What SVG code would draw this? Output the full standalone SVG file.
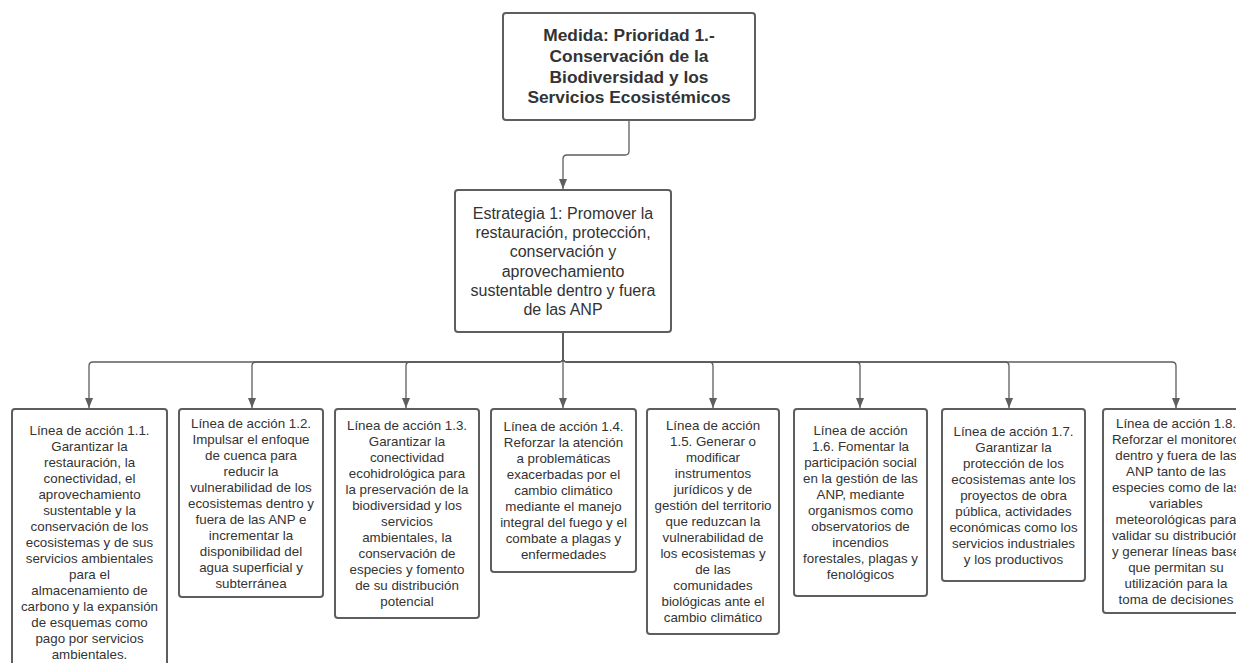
<svg xmlns="http://www.w3.org/2000/svg" width="1236" height="663" viewBox="0 0 1236 663">
<defs>
<style>
.box{fill:#ffffff;stroke:#5e5e5e;stroke-width:2}
.t{font-family:"Liberation Sans",Arial,sans-serif;font-size:13.33px;fill:#333333;text-anchor:middle}
.tm{font-family:"Liberation Sans",Arial,sans-serif;font-size:16px;fill:#333333;text-anchor:middle}
.tb{font-family:"Liberation Sans",Arial,sans-serif;font-size:17.33px;font-weight:bold;fill:#333333;text-anchor:middle}
.c{fill:none;stroke:#5e5e5e;stroke-width:1.3;marker-end:url(#arr)}
</style>
<marker id="arr" markerUnits="userSpaceOnUse" markerWidth="10" markerHeight="10" refX="10" refY="4" orient="auto">
<path d="M0,0 L10,4 L0,8 z" fill="#5e5e5e"/>
</marker>
</defs>
<rect width="1236" height="663" fill="#ffffff"/>
<g id="connectors">
<path class="c" d="M629,120 V151 Q629,155 625,155 H567 Q563,155 563,159 V189"/>
<path class="c" d="M563,333 V358 Q563,362 559,362 H93 Q89,362 89,366 V408"/>
<path class="c" d="M563,333 V358 Q563,362 559,362 H256 Q252,362 252,366 V408"/>
<path class="c" d="M563,333 V358 Q563,362 559,362 H410 Q406,362 406,366 V408"/>
<path class="c" d="M563,333 V408"/>
<path class="c" d="M563,333 V358 Q563,362 567,362 H709 Q713,362 713,366 V408"/>
<path class="c" d="M563,333 V358 Q563,362 567,362 H856 Q860,362 860,366 V408"/>
<path class="c" d="M563,333 V358 Q563,362 567,362 H1005 Q1009,362 1009,366 V408"/>
<path class="c" d="M563,333 V358 Q563,362 567,362 H1172 Q1176,362 1176,366 V408"/>
</g>
<g id="medida">
<rect class="box" x="503" y="13" width="252" height="107" rx="3"/>
<text class="tb" x="629" y="41">Medida: Prioridad 1.-<tspan x="629" dy="20.8">Conservación de la</tspan><tspan x="629" dy="20.8">Biodiversidad y los</tspan><tspan x="629" dy="20.8">Servicios Ecosistémicos</tspan></text>
</g>
<g id="estrategia">
<rect class="box" x="455" y="190" width="216" height="142" rx="3"/>
<text class="tm" x="563" y="219">Estrategia 1: Promover la<tspan x="563" dy="19.2">restauración, protección,</tspan><tspan x="563" dy="19.2">conservación y</tspan><tspan x="563" dy="19.2">aprovechamiento</tspan><tspan x="563" dy="19.2">sustentable dentro y fuera</tspan><tspan x="563" dy="19.2">de las ANP</tspan></text>
</g>
<g id="linea11">
<rect class="box" x="12" y="409" width="155" height="266" rx="3"/>
<text class="t" x="89.5" y="435">Línea de acción 1.1.<tspan x="89.5" dy="16">Garantizar la</tspan><tspan x="89.5" dy="16">restauración, la</tspan><tspan x="89.5" dy="16">conectividad, el</tspan><tspan x="89.5" dy="16">aprovechamiento</tspan><tspan x="89.5" dy="16">sustentable y la</tspan><tspan x="89.5" dy="16">conservación de los</tspan><tspan x="89.5" dy="16">ecosistemas y de sus</tspan><tspan x="89.5" dy="16">servicios ambientales</tspan><tspan x="89.5" dy="16">para el</tspan><tspan x="89.5" dy="16">almacenamiento de</tspan><tspan x="89.5" dy="16">carbono y la expansión</tspan><tspan x="89.5" dy="16">de esquemas como</tspan><tspan x="89.5" dy="16">pago por servicios</tspan><tspan x="89.5" dy="16">ambientales.</tspan></text>
</g>
<g id="linea12">
<rect class="box" x="179" y="409" width="144" height="188" rx="3"/>
<text class="t" x="251" y="428">Línea de acción 1.2.<tspan x="251" dy="16">Impulsar el enfoque</tspan><tspan x="251" dy="16">de cuenca para</tspan><tspan x="251" dy="16">reducir la</tspan><tspan x="251" dy="16">vulnerabilidad de los</tspan><tspan x="251" dy="16">ecosistemas dentro y</tspan><tspan x="251" dy="16">fuera de las ANP e</tspan><tspan x="251" dy="16">incrementar la</tspan><tspan x="251" dy="16">disponibilidad del</tspan><tspan x="251" dy="16">agua superficial y</tspan><tspan x="251" dy="16">subterránea</tspan></text>
</g>
<g id="linea13">
<rect class="box" x="335" y="409" width="144" height="209" rx="3"/>
<text class="t" x="407" y="430">Línea de acción 1.3.<tspan x="407" dy="16">Garantizar la</tspan><tspan x="407" dy="16">conectividad</tspan><tspan x="407" dy="16">ecohidrológica para</tspan><tspan x="407" dy="16">la preservación de la</tspan><tspan x="407" dy="16">biodiversidad y los</tspan><tspan x="407" dy="16">servicios</tspan><tspan x="407" dy="16">ambientales, la</tspan><tspan x="407" dy="16">conservación de</tspan><tspan x="407" dy="16">especies y fomento</tspan><tspan x="407" dy="16">de su distribución</tspan><tspan x="407" dy="16">potencial</tspan></text>
</g>
<g id="linea14">
<rect class="box" x="491" y="409" width="145" height="163" rx="3"/>
<text class="t" x="563.5" y="431">Línea de acción 1.4.<tspan x="563.5" dy="16">Reforzar la atención</tspan><tspan x="563.5" dy="16">a problemáticas</tspan><tspan x="563.5" dy="16">exacerbadas por el</tspan><tspan x="563.5" dy="16">cambio climático</tspan><tspan x="563.5" dy="16">mediante el manejo</tspan><tspan x="563.5" dy="16">integral del fuego y el</tspan><tspan x="563.5" dy="16">combate a plagas y</tspan><tspan x="563.5" dy="16">enfermedades</tspan></text>
</g>
<g id="linea15">
<rect class="box" x="647" y="409" width="132" height="225" rx="3"/>
<text class="t" x="713" y="430">Línea de acción<tspan x="713" dy="16">1.5. Generar o</tspan><tspan x="713" dy="16">modificar</tspan><tspan x="713" dy="16">instrumentos</tspan><tspan x="713" dy="16">jurídicos y de</tspan><tspan x="713" dy="16">gestión del territorio</tspan><tspan x="713" dy="16">que reduzcan la</tspan><tspan x="713" dy="16">vulnerabilidad de</tspan><tspan x="713" dy="16">los ecosistemas y</tspan><tspan x="713" dy="16">de las</tspan><tspan x="713" dy="16">comunidades</tspan><tspan x="713" dy="16">biológicas ante el</tspan><tspan x="713" dy="16">cambio climático</tspan></text>
</g>
<g id="linea16">
<rect class="box" x="794" y="409" width="133" height="187" rx="3"/>
<text class="t" x="860.5" y="435">Línea de acción<tspan x="860.5" dy="16">1.6. Fomentar la</tspan><tspan x="860.5" dy="16">participación social</tspan><tspan x="860.5" dy="16">en la gestión de las</tspan><tspan x="860.5" dy="16">ANP, mediante</tspan><tspan x="860.5" dy="16">organismos como</tspan><tspan x="860.5" dy="16">observatorios de</tspan><tspan x="860.5" dy="16">incendios</tspan><tspan x="860.5" dy="16">forestales, plagas y</tspan><tspan x="860.5" dy="16">fenológicos</tspan></text>
</g>
<g id="linea17">
<rect class="box" x="942" y="409" width="143" height="172" rx="3"/>
<text class="t" x="1013.5" y="436">Línea de acción 1.7.<tspan x="1013.5" dy="16">Garantizar la</tspan><tspan x="1013.5" dy="16">protección de los</tspan><tspan x="1013.5" dy="16">ecosistemas ante los</tspan><tspan x="1013.5" dy="16">proyectos de obra</tspan><tspan x="1013.5" dy="16">pública, actividades</tspan><tspan x="1013.5" dy="16">económicas como los</tspan><tspan x="1013.5" dy="16">servicios industriales</tspan><tspan x="1013.5" dy="16">y los productivos</tspan></text>
</g>
<g id="linea18">
<rect class="box" x="1103" y="409" width="146" height="204" rx="3"/>
<text class="t" x="1176" y="428">Línea de acción 1.8.<tspan x="1176" dy="16">Reforzar el monitoreo</tspan><tspan x="1176" dy="16">dentro y fuera de las</tspan><tspan x="1176" dy="16">ANP tanto de las</tspan><tspan x="1176" dy="16">especies como de las</tspan><tspan x="1176" dy="16">variables</tspan><tspan x="1176" dy="16">meteorológicas para</tspan><tspan x="1176" dy="16">validar su distribución</tspan><tspan x="1176" dy="16">y generar líneas base</tspan><tspan x="1176" dy="16">que permitan su</tspan><tspan x="1176" dy="16">utilización para la</tspan><tspan x="1176" dy="16">toma de decisiones</tspan></text>
</g>
</svg>
